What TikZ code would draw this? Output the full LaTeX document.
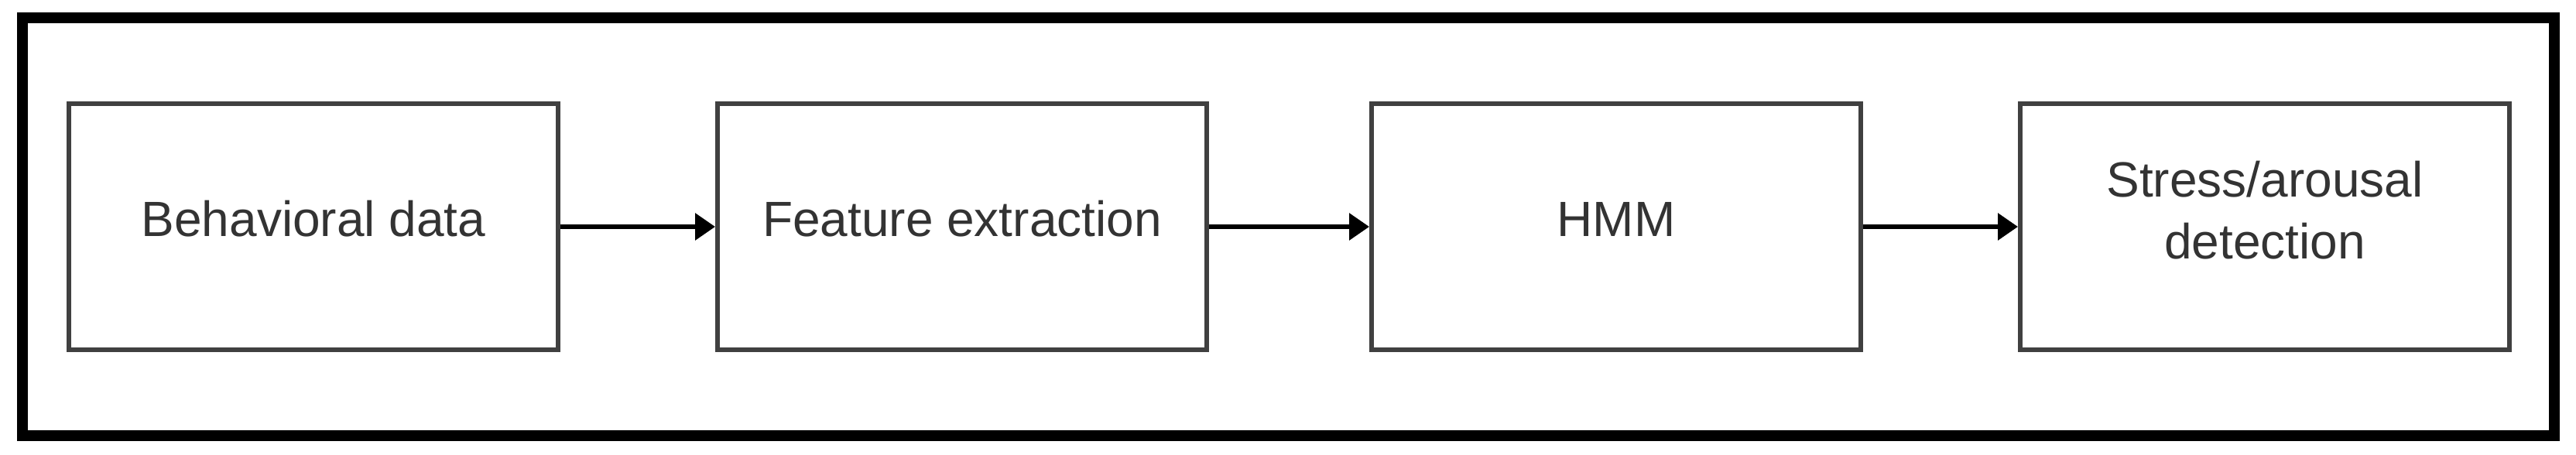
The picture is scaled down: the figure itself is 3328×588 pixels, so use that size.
\documentclass[tikz,border=0pt]{standalone}
\usepackage{fontspec}
\setmainfont{Liberation Sans}
\usetikzlibrary{arrows.meta}
\begin{document}
\begin{tikzpicture}[x=1pt,y=-1pt,
  blk/.style={draw=black!75,line width=6pt,minimum width=632pt,minimum height=318pt,align=center,inner sep=0pt},
  lbl/.style={align=center,font=\fontsize{64}{80}\selectfont,text=black!80,inner sep=0pt},
  conn/.style={line width=6pt,-{Triangle[length=26pt,width=34pt]}}]
\useasboundingbox (0,0) rectangle (3328,588);
\draw[line width=14pt] (29,23) rectangle (3300,563);
\node[blk] (a) at (405,293) {};
\node[blk] (b) at (1243,293) {};
\node[blk] (c) at (2088,293) {};
\node[blk] (d) at (2926,293) {};
\node[lbl] (ta) at (405,283) {Behavioral data};
\node[lbl] (tb) at (1243,283) {Feature extraction};
\node[lbl] (tc) at (2088,283) {HMM};
\node[lbl] (td) at (2926,272) {Stress/arousal\\detection};
\draw[conn] (a) -- (b);
\draw[conn] (b) -- (c);
\draw[conn] (c) -- (d);
\end{tikzpicture}
\end{document}
